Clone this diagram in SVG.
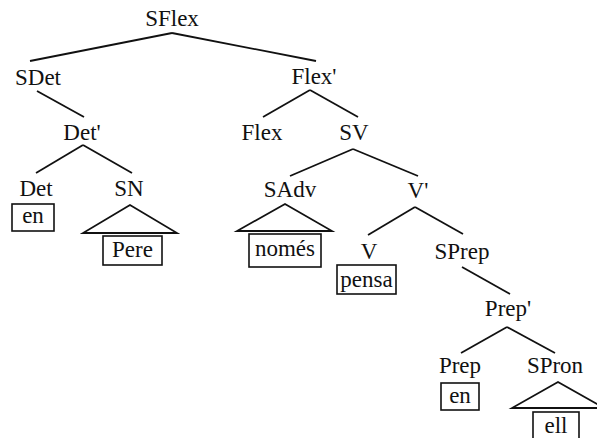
<svg xmlns="http://www.w3.org/2000/svg" width="597" height="438" viewBox="0 0 597 438">
<rect width="597" height="438" fill="#fff"/>
<g id="connectors" stroke="#111" stroke-width="1.8" fill="none">
<line x1="172" y1="33" x2="30" y2="61"/>
<line x1="172" y1="33" x2="316" y2="61"/>
<line x1="37" y1="91" x2="84" y2="117"/>
<line x1="310" y1="90" x2="263" y2="117"/>
<line x1="310" y1="90" x2="358" y2="117"/>
<line x1="83" y1="145" x2="36" y2="173"/>
<line x1="83" y1="145" x2="132" y2="173"/>
<line x1="353" y1="149" x2="290" y2="176"/>
<line x1="353" y1="149" x2="418" y2="176"/>
<line x1="415" y1="207" x2="368" y2="235"/>
<line x1="415" y1="207" x2="463" y2="234"/>
<line x1="462" y1="267" x2="510" y2="294"/>
<line x1="507" y1="327" x2="461" y2="353"/>
<line x1="507" y1="327" x2="555" y2="353"/>
<polygon points="130,205 83,233 177,233"/>
<polygon points="285,204 237,231 332,231"/>
<polygon points="558,382 512,408 604,408"/>
</g>
<g id="boxes" stroke="#111" stroke-width="1.6" fill="#fff">
<rect x="12" y="204" width="42" height="27"/>
<rect x="103" y="236" width="59" height="29"/>
<rect x="249" y="234" width="72" height="33"/>
<rect x="337" y="265" width="59" height="29"/>
<rect x="441" y="383" width="38" height="27"/>
<rect x="533" y="412" width="46" height="30"/>
</g>
<g id="labels" font-family="Liberation Serif" font-size="23" fill="#111" text-anchor="middle">
<g id="SFlex"><text x="172" y="26">SFlex</text></g>
<g id="SDet"><text x="38" y="85">SDet</text></g>
<g id="Flex-bar"><text x="314" y="84">Flex'</text></g>
<g id="Det-bar"><text x="82" y="140">Det'</text></g>
<g id="Flex"><text x="262" y="140">Flex</text></g>
<g id="SV"><text x="354" y="140">SV</text></g>
<g id="Det"><text x="36" y="196">Det</text><text x="33" y="223">en</text></g>
<g id="SN"><text x="129" y="196">SN</text><text x="132.5" y="257">Pere</text></g>
<g id="SAdv"><text x="290" y="197">SAdv</text><text x="285" y="256">només</text></g>
<g id="V-bar"><text x="418" y="198">V'</text></g>
<g id="V"><text x="369" y="259">V</text><text x="366.5" y="287">pensa</text></g>
<g id="SPrep"><text x="462" y="259">SPrep</text></g>
<g id="Prep-bar"><text x="508" y="316">Prep'</text></g>
<g id="Prep"><text x="460" y="373">Prep</text><text x="460" y="403">en</text></g>
<g id="SPron"><text x="555" y="373">SPron</text><text x="556" y="433">ell</text></g>
</g>
</svg>
